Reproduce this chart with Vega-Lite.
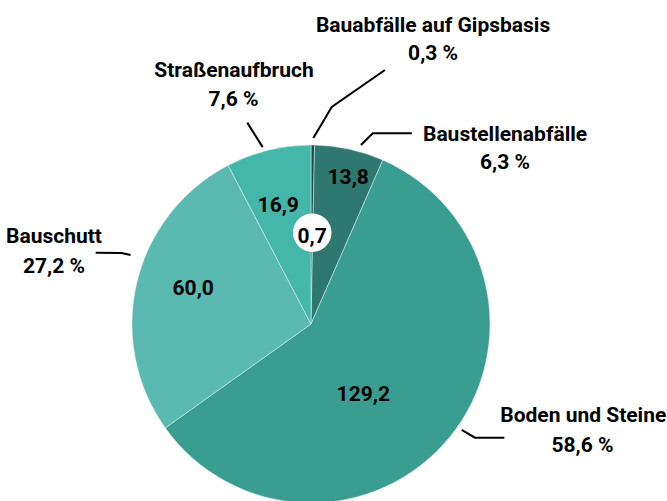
{
  "$schema": "https://vega.github.io/schema/vega-lite/v6.json",
  "autosize": {"type": "none"},
  "padding": {"left": 0, "top": 147, "right": 45, "bottom": 0},
  "width": 622,
  "height": 354,
  "background": "white",
  "config": {"view": {"stroke": null}},
  "layer": [
    {
      "data": {"values": [
        {"kategorie": "Bauabfälle auf Gipsbasis", "wert": 0.7, "rang": 1},
        {"kategorie": "Baustellenabfälle", "wert": 13.8, "rang": 2},
        {"kategorie": "Boden und Steine", "wert": 129.2, "rang": 3},
        {"kategorie": "Bauschutt", "wert": 60.0, "rang": 4},
        {"kategorie": "Straßenaufbruch", "wert": 16.9, "rang": 5}
      ]},
      "mark": {"type": "arc", "outerRadius": 179, "stroke": "#e8f4f2", "strokeWidth": 0.5},
      "encoding": {
        "theta": {"field": "wert", "type": "quantitative", "stack": true},
        "order": {"field": "rang", "type": "quantitative"},
        "color": {
          "field": "kategorie", "type": "nominal", "legend": null,
          "scale": {
            "domain": ["Bauabfälle auf Gipsbasis", "Baustellenabfälle", "Boden und Steine", "Bauschutt", "Straßenaufbruch"],
            "range": ["#1f4d47", "#2e786f", "#3a9d92", "#5abab1", "#45b6aa"]
          }
        }
      }
    },
    {
      "data": {"values": [
        {"linie": "Gips", "n": 1, "x": 1.3, "y": 103.9},
        {"linie": "Gips", "n": 2, "x": 11.6, "y": 121.2},
        {"linie": "Gips", "n": 3, "x": 41.3, "y": 141.9},
        {"linie": "Baustelle", "n": 1, "x": 27.9, "y": 100.0},
        {"linie": "Baustelle", "n": 2, "x": 34.5, "y": 106.5},
        {"linie": "Baustelle", "n": 3, "x": 56.3, "y": 106.5},
        {"linie": "Boden", "n": 1, "x": 84.2, "y": -59.2},
        {"linie": "Boden", "n": 2, "x": 91.6, "y": -63.5},
        {"linie": "Boden", "n": 3, "x": 108.0, "y": -63.5},
        {"linie": "Bauschutt", "n": 1, "x": -120.3, "y": 39.8},
        {"linie": "Bauschutt", "n": 2, "x": -105.8, "y": 39.7},
        {"linie": "Bauschutt", "n": 3, "x": -100.8, "y": 38.5},
        {"linie": "Strasse", "n": 1, "x": -35.6, "y": 112.5},
        {"linie": "Strasse", "n": 2, "x": -27.0, "y": 98.8}
      ]},
      "mark": {"type": "line", "color": "black", "strokeWidth": 2, "strokeJoin": "miter"},
      "encoding": {
        "x": {"field": "x", "type": "quantitative", "axis": null, "scale": {"domain": [-173.74, 173.74], "nice": false, "zero": false}},
        "y": {"field": "y", "type": "quantitative", "axis": null, "scale": {"domain": [-98.88, 98.88], "nice": false, "zero": false}},
        "detail": {"field": "linie", "type": "nominal"},
        "order": {"field": "n", "type": "quantitative"}
      }
    },
    {
      "data": {"values": [{"x": 0.7, "y": 51.0}]},
      "mark": {"type": "point", "shape": "circle", "filled": true, "color": "white", "opacity": 1, "size": 1480},
      "encoding": {
        "x": {"field": "x", "type": "quantitative"},
        "y": {"field": "y", "type": "quantitative"}
      }
    },
    {
      "data": {"values": [
        {"text": "Bauabfälle auf Gipsbasis", "x": 68.2, "y": 163.3},
        {"text": "0,3 %", "x": 68.2, "y": 147.5},
        {"text": "Baustellenabfälle", "x": 108.4, "y": 102.4},
        {"text": "6,3 %", "x": 108.4, "y": 86.6},
        {"text": "Boden und Steine", "x": 152.1, "y": -54.6},
        {"text": "58,6 %", "x": 151.7, "y": -71.3},
        {"text": "Bauschutt", "x": -143.6, "y": 45.1},
        {"text": "27,2 %", "x": -143.6, "y": 28.7},
        {"text": "Straßenaufbruch", "x": -43.0, "y": 138.2},
        {"text": "7,6 %", "x": -43.3, "y": 121.8},
        {"text": "0,7", "x": 0.6, "y": 45.3},
        {"text": "16,9", "x": -18.3, "y": 62.7},
        {"text": "60,0", "x": -65.8, "y": 16.2},
        {"text": "13,8", "x": 20.8, "y": 78.0},
        {"text": "129,2", "x": 29.2, "y": -43.0}
      ]},
      "mark": {"type": "text", "font": "Roboto", "fontWeight": "bold", "fontSize": 21, "align": "center", "baseline": "alphabetic", "color": "black"},
      "encoding": {
        "x": {"field": "x", "type": "quantitative"},
        "y": {"field": "y", "type": "quantitative"},
        "text": {"field": "text", "type": "nominal"}
      }
    }
  ]
}
